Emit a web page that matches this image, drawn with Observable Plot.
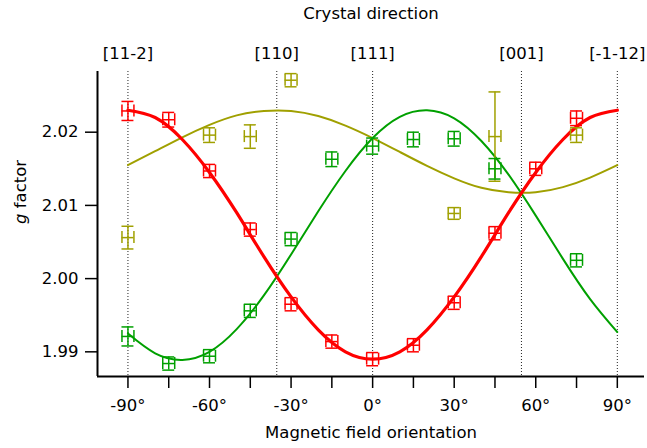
<!DOCTYPE html>
<html><head><meta charset="utf-8">
<script src="https://cdn.jsdelivr.net/npm/d3@7"></script>
<script src="https://cdn.jsdelivr.net/npm/@observablehq/plot@0.6"></script>
<style>body{margin:0;background:#fff;}</style>
</head><body><div id="chart"></div>
<script>
// axes / tick labels
const xTicks = [-90,-75,-60,-45,-30,-15,0,15,30,45,60,75,90];
const xLabelTicks = [-90,-60,-30,0,30,60,90];
const yTicks = [1.99,2.00,2.01,2.02];
const dirAngles = [-90,-35.26,0,54.74,90];
const dirLabels = ["[11-2]","[110]","[111]","[001]","[-1-12]"];
const xDomain = [-101.2, 100];
const yDomain = [1.98663, 2.02829];

// measured points (angle, g, g error); angle error
const angleErr = 2.2;
const redAngles = [-90,-75,-60,-45,-30,-15,0,15,30,45,60,75];
const redG   = [2.0229,2.0217,2.0147,2.0067,1.9965,1.9914,1.9890,1.9909,1.9967,2.0062,2.0150,2.0219];
const redErr = [0.0013,0.0010,0.0009,0.0009,0.0009,0.0009,0.0009,0.0009,0.0009,0.0009,0.0009,0.0010];

const greenAngles = [-90,-75,-60,-45,-30,-15,0,15,30,45,75];
const greenG   = [1.9921,1.9884,1.9894,1.9956,2.0054,2.0163,2.0181,2.0190,2.0191,2.0150,2.0025];
const greenErr = [0.0013,0.0009,0.0009,0.0009,0.0009,0.0010,0.0011,0.0010,0.0010,0.0014,0.0009];

const yellowAngles = [-90,-60,-45,-30,30,45,75];
const yellowG   = [2.0056,2.0196,2.0194,2.0271,2.0089,2.0194,2.0196];
const yellowErr = [0.00155,0.0010,0.0016,0.0009,0.0008,0.0061,0.0010];

// fitted curves
const fitAngles = [-90,-80,-70,-60,-50,-40,-30,-20,-10,0,10,20,30,40,50,60,70,80,90];
const redFit    = [2.0230,2.0220,2.0190,2.0145,2.0090,2.0030,1.9975,1.9930,1.9900,1.9890,1.9900,1.9930,1.9975,2.0030,2.0090,2.0145,2.0190,2.0220,2.0230];
const greenFit  = [1.9925,1.9898,1.9889,1.9900,1.9931,1.9977,2.0033,2.0092,2.0147,2.0192,2.0221,2.0230,2.0219,2.0188,2.0142,2.0086,2.0027,1.9972,1.9927];
const yellowFit = [2.0155,2.0174,2.0193,2.0210,2.0223,2.0229,2.0229,2.0222,2.0209,2.0192,2.0173,2.0154,2.0137,2.0124,2.0118,2.0118,2.0125,2.0138,2.0155];

const RED = "#ff0000", GREEN = "#00a000", OLIVE = "#a0a000";

const pts = (xs, gs, es) => xs.map((x, i) => ({x, g: gs[i], e: es[i]}));
const fit = (gs) => fitAngles.map((x, i) => ({x, g: gs[i]}));

// cap half-height in g units so that caps are ~12 px tall
const capG = 0.00082;

function errorBars(data, color) {
  const o = {stroke: color, strokeWidth: 1.5};
  return [
    Plot.ruleX(data, {x: "x", y1: d => d.g - d.e, y2: d => d.g + d.e, ...o}),
    Plot.ruleY(data, {y: "g", x1: d => d.x - angleErr, x2: d => d.x + angleErr, ...o}),
    Plot.ruleY(data, {y: d => d.g + d.e, x1: d => d.x - angleErr, x2: d => d.x + angleErr, ...o}),
    Plot.ruleY(data, {y: d => d.g - d.e, x1: d => d.x - angleErr, x2: d => d.x + angleErr, ...o}),
    Plot.ruleX(data, {x: d => d.x - angleErr, y1: d => d.g - capG, y2: d => d.g + capG, ...o}),
    Plot.ruleX(data, {x: d => d.x + angleErr, y1: d => d.g - capG, y2: d => d.g + capG, ...o})
  ];
}

const chart = Plot.plot({
  width: 647, height: 448,
  marginLeft: 97, marginRight: 3, marginTop: 71, marginBottom: 72,
  x: {domain: xDomain},
  y: {domain: yDomain},
  style: {fontFamily: "'DejaVu Sans', sans-serif", fontSize: "16.5px", background: "white", color: "black"},
  marks: [
    Plot.ruleX(dirAngles, {x: d => d, stroke: "#222", strokeWidth: 1, strokeDasharray: "1,2"}),
    Plot.line(fit(yellowFit), {x: "x", y: "g", stroke: OLIVE, strokeWidth: 2, curve: "natural"}),
    Plot.line(fit(greenFit), {x: "x", y: "g", stroke: GREEN, strokeWidth: 2, curve: "natural"}),
    Plot.line(fit(redFit), {x: "x", y: "g", stroke: RED, strokeWidth: 3.2, curve: "natural"}),
    ...errorBars(pts(yellowAngles, yellowG, yellowErr), OLIVE),
    ...errorBars(pts(greenAngles, greenG, greenErr), GREEN),
    ...errorBars(pts(redAngles, redG, redErr), RED),
    Plot.ruleX([xDomain[0]], {x: d => d, strokeWidth: 2}),
    Plot.ruleY([yDomain[0]], {y: d => d, strokeWidth: 2}),
    Plot.axisY({ticks: yTicks, tickFormat: d3.format(".2f"), tickSize: 12, tickPadding: 7, strokeWidth: 1.5, label: null}),
    Plot.axisX({ticks: xTicks, tickFormat: d => xLabelTicks.includes(d) ? `${d}°` : "", tickSize: 12, tickPadding: 11, strokeWidth: 1.5, label: null}),
    Plot.text(dirAngles, {x: d => d, text: (d, i) => dirLabels[i], frameAnchor: "top", dy: -13, lineAnchor: "bottom"}),
    Plot.text(["Crystal direction"], {text: d => d, frameAnchor: "top", dy: -53, lineAnchor: "bottom"}),
    Plot.text(["Magnetic field orientation"], {text: d => d, frameAnchor: "bottom", dy: 61, lineAnchor: "bottom"}),
    Plot.text(["g factor"], {text: d => d, frameAnchor: "left", dx: -72, rotate: -90, lineAnchor: "bottom"})
  ]
});

// italic "g" in the y-axis title
d3.select(chart).selectAll("text").filter(function() { return this.textContent === "g factor"; })
  .each(function() {
    const t = d3.select(this);
    t.text(null);
    t.append("tspan").attr("font-style", "italic").text("g");
    t.append("tspan").text(" factor");
  });

document.getElementById("chart").appendChild(chart);
</script>
</body></html>
